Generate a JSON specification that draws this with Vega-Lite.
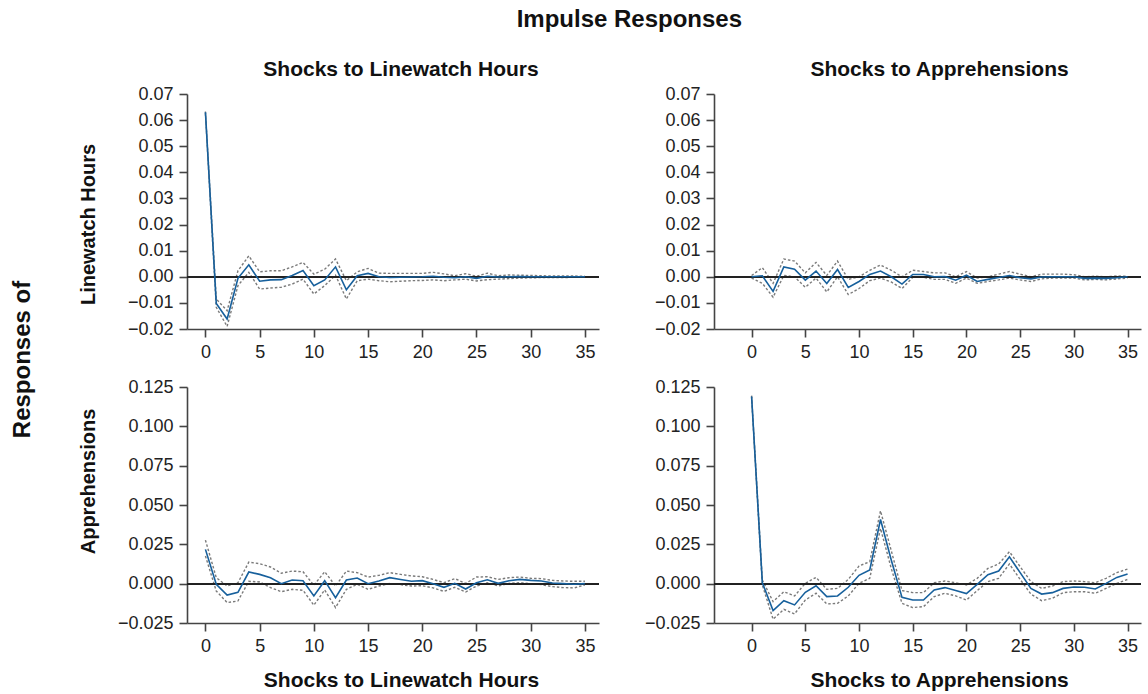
{
  "$schema": "https://vega.github.io/schema/vega-lite/v6.json",
  "padding": {"left": 10, "top": 8, "right": 6, "bottom": 4},
  "background": "white",
  "config": {
    "view": {"stroke": null},
    "font": "Liberation Sans",
    "axis": {
      "grid": false,
      "labelOverlap": false,
      "tickCount": 20,
      "domainColor": "#444444",
      "domainWidth": 1.6,
      "tickColor": "#444444",
      "tickWidth": 1.6,
      "tickSize": 8,
      "labelFont": "Liberation Sans",
      "labelFontSize": 18,
      "labelColor": "#222222",
      "labelPadding": 6,
      "titleFont": "Liberation Sans",
      "titleFontSize": 20,
      "titleFontWeight": "bold",
      "titleColor": "#111111"
    },
    "title": {"font": "Liberation Sans", "fontWeight": "bold", "color": "#111111"}
  },
  "datasets": {
    "lwlw": [
      {"step": 0, "lower": 0.0625, "response": 0.063, "upper": 0.0633},
      {"step": 1, "lower": -0.0117, "response": -0.0102, "upper": -0.0085},
      {"step": 2, "lower": -0.019, "response": -0.0162, "upper": -0.013},
      {"step": 3, "lower": -0.0034, "response": -0.0006, "upper": 0.0023},
      {"step": 4, "lower": 0.0017, "response": 0.0046, "upper": 0.008},
      {"step": 5, "lower": -0.0047, "response": -0.0017, "upper": 0.0019},
      {"step": 6, "lower": -0.0043, "response": -0.0012, "upper": 0.0023},
      {"step": 7, "lower": -0.004, "response": -0.0011, "upper": 0.0023},
      {"step": 8, "lower": -0.0028, "response": 0.0005, "upper": 0.0038},
      {"step": 9, "lower": -0.0009, "response": 0.0024, "upper": 0.0055},
      {"step": 10, "lower": -0.0066, "response": -0.0034, "upper": 0.001},
      {"step": 11, "lower": -0.0034, "response": -0.0012, "upper": 0.0029},
      {"step": 12, "lower": 0.0006, "response": 0.0038, "upper": 0.0068},
      {"step": 13, "lower": -0.0085, "response": -0.005, "upper": -0.0015},
      {"step": 14, "lower": -0.0015, "response": 0.0004, "upper": 0.0019},
      {"step": 15, "lower": -0.0009, "response": 0.0013, "upper": 0.0032},
      {"step": 16, "lower": -0.0015, "response": 0.0, "upper": 0.0014},
      {"step": 17, "lower": -0.0019, "response": -0.0003, "upper": 0.0013},
      {"step": 18, "lower": -0.0017, "response": -0.0002, "upper": 0.0013},
      {"step": 19, "lower": -0.0015, "response": -0.0001, "upper": 0.0013},
      {"step": 20, "lower": -0.0014, "response": 0.0, "upper": 0.0013},
      {"step": 21, "lower": -0.0012, "response": 0.0002, "upper": 0.0017},
      {"step": 22, "lower": -0.0015, "response": -0.0002, "upper": 0.0011},
      {"step": 23, "lower": -0.0012, "response": -0.0004, "upper": 0.0004},
      {"step": 24, "lower": -0.0009, "response": 0.0, "upper": 0.0012},
      {"step": 25, "lower": -0.0016, "response": -0.0006, "upper": 0.0002},
      {"step": 26, "lower": -0.0011, "response": 0.0002, "upper": 0.0014},
      {"step": 27, "lower": -0.0009, "response": -0.0001, "upper": 0.0004},
      {"step": 28, "lower": -0.0007, "response": 0.0, "upper": 0.0007},
      {"step": 29, "lower": -0.0005, "response": 0.0001, "upper": 0.0006},
      {"step": 30, "lower": -0.0004, "response": 0.0, "upper": 0.0005},
      {"step": 31, "lower": -0.0003, "response": 0.0, "upper": 0.0004},
      {"step": 32, "lower": -0.0003, "response": 0.0, "upper": 0.0003},
      {"step": 33, "lower": -0.0003, "response": 0.0, "upper": 0.0003},
      {"step": 34, "lower": -0.0002, "response": 0.0, "upper": 0.0003},
      {"step": 35, "lower": -0.0002, "response": 0.0, "upper": 0.0002}
    ],
    "lwap": [
      {"step": 0, "lower": -0.0005, "response": 0.0, "upper": 0.0005},
      {"step": 1, "lower": -0.0025, "response": 0.0004, "upper": 0.0035},
      {"step": 2, "lower": -0.0078, "response": -0.0056, "upper": -0.0025},
      {"step": 3, "lower": 0.0005, "response": 0.0038, "upper": 0.0068},
      {"step": 4, "lower": 0.0, "response": 0.0029, "upper": 0.006},
      {"step": 5, "lower": -0.004, "response": -0.0013, "upper": 0.0015},
      {"step": 6, "lower": -0.0005, "response": 0.0022, "upper": 0.0055},
      {"step": 7, "lower": -0.0058, "response": -0.0026, "upper": 0.0005},
      {"step": 8, "lower": 0.0, "response": 0.0028, "upper": 0.006},
      {"step": 9, "lower": -0.0068, "response": -0.0041, "upper": -0.001},
      {"step": 10, "lower": -0.0045, "response": -0.0018, "upper": 0.0},
      {"step": 11, "lower": -0.0015, "response": 0.0009, "upper": 0.0025},
      {"step": 12, "lower": -0.0005, "response": 0.0022, "upper": 0.0045},
      {"step": 13, "lower": -0.002, "response": 0.0, "upper": 0.0025},
      {"step": 14, "lower": -0.0045, "response": -0.0028, "upper": 0.0},
      {"step": 15, "lower": -0.0002, "response": 0.0009, "upper": 0.0025},
      {"step": 16, "lower": -0.0002, "response": 0.0009, "upper": 0.002},
      {"step": 17, "lower": -0.001, "response": 0.0, "upper": 0.0015},
      {"step": 18, "lower": -0.001, "response": 0.0001, "upper": 0.0015},
      {"step": 19, "lower": -0.0025, "response": -0.0013, "upper": 0.0},
      {"step": 20, "lower": -0.0005, "response": 0.0006, "upper": 0.002},
      {"step": 21, "lower": -0.0025, "response": -0.0018, "upper": -0.0005},
      {"step": 22, "lower": -0.0018, "response": -0.001, "upper": 0.0},
      {"step": 23, "lower": -0.0012, "response": -0.0003, "upper": 0.001},
      {"step": 24, "lower": -0.0005, "response": 0.0005, "upper": 0.002},
      {"step": 25, "lower": -0.0012, "response": -0.0004, "upper": 0.001},
      {"step": 26, "lower": -0.0018, "response": -0.0008, "upper": 0.0},
      {"step": 27, "lower": -0.0008, "response": -0.0001, "upper": 0.001},
      {"step": 28, "lower": -0.0005, "response": 0.0, "upper": 0.001},
      {"step": 29, "lower": -0.0005, "response": 0.0, "upper": 0.001},
      {"step": 30, "lower": -0.0005, "response": 0.0, "upper": 0.0008},
      {"step": 31, "lower": -0.0012, "response": -0.0006, "upper": 0.0},
      {"step": 32, "lower": -0.001, "response": -0.0005, "upper": 0.0002},
      {"step": 33, "lower": -0.0012, "response": -0.0006, "upper": 0.0},
      {"step": 34, "lower": -0.0008, "response": -0.0004, "upper": 0.0003},
      {"step": 35, "lower": -0.0005, "response": 0.0, "upper": 0.0002}
    ],
    "aplw": [
      {"step": 0, "lower": 0.0176, "response": 0.0218, "upper": 0.0277},
      {"step": 1, "lower": -0.0047, "response": -0.0004, "upper": 0.0038},
      {"step": 2, "lower": -0.012, "response": -0.0072, "upper": -0.0015},
      {"step": 3, "lower": -0.011, "response": -0.0055, "upper": 0.0006},
      {"step": 4, "lower": 0.0015, "response": 0.0074, "upper": 0.0137},
      {"step": 5, "lower": 0.0011, "response": 0.0059, "upper": 0.0127},
      {"step": 6, "lower": -0.0025, "response": 0.0038, "upper": 0.0106},
      {"step": 7, "lower": -0.0051, "response": 0.0, "upper": 0.0066},
      {"step": 8, "lower": -0.0036, "response": 0.0023, "upper": 0.008},
      {"step": 9, "lower": -0.0042, "response": 0.0019, "upper": 0.0076},
      {"step": 10, "lower": -0.0137, "response": -0.0078, "upper": -0.001},
      {"step": 11, "lower": -0.004, "response": 0.0019, "upper": 0.0076},
      {"step": 12, "lower": -0.0152, "response": -0.0089, "upper": -0.0015},
      {"step": 13, "lower": -0.0036, "response": 0.0023, "upper": 0.008},
      {"step": 14, "lower": -0.0004, "response": 0.0036, "upper": 0.007},
      {"step": 15, "lower": -0.0036, "response": 0.0, "upper": 0.0042},
      {"step": 16, "lower": -0.0015, "response": 0.0017, "upper": 0.0053},
      {"step": 17, "lower": 0.0002, "response": 0.0038, "upper": 0.007},
      {"step": 18, "lower": -0.0006, "response": 0.0027, "upper": 0.0059},
      {"step": 19, "lower": -0.0015, "response": 0.0015, "upper": 0.0049},
      {"step": 20, "lower": -0.0013, "response": 0.0019, "upper": 0.0044},
      {"step": 21, "lower": -0.0027, "response": 0.0, "upper": 0.0027},
      {"step": 22, "lower": -0.0049, "response": -0.0023, "upper": 0.0006},
      {"step": 23, "lower": -0.0023, "response": 0.0002, "upper": 0.0032},
      {"step": 24, "lower": -0.0053, "response": -0.0034, "upper": 0.0002},
      {"step": 25, "lower": -0.0015, "response": 0.0006, "upper": 0.0042},
      {"step": 26, "lower": 0.0006, "response": 0.0025, "upper": 0.0044},
      {"step": 27, "lower": -0.0015, "response": 0.0002, "upper": 0.0027},
      {"step": 28, "lower": 0.0002, "response": 0.0019, "upper": 0.0038},
      {"step": 29, "lower": 0.0006, "response": 0.0027, "upper": 0.0042},
      {"step": 30, "lower": 0.0, "response": 0.0021, "upper": 0.0034},
      {"step": 31, "lower": -0.0006, "response": 0.0017, "upper": 0.0032},
      {"step": 32, "lower": -0.0019, "response": 0.0004, "upper": 0.0021},
      {"step": 33, "lower": -0.0025, "response": 0.0, "upper": 0.0017},
      {"step": 34, "lower": -0.0027, "response": -0.0004, "upper": 0.0015},
      {"step": 35, "lower": -0.0008, "response": 0.0, "upper": 0.0015}
    ],
    "apap": [
      {"step": 0, "lower": 0.1185, "response": 0.119, "upper": 0.1195},
      {"step": 1, "lower": -0.0008, "response": 0.0006, "upper": 0.0023},
      {"step": 2, "lower": -0.0226, "response": -0.0171, "upper": -0.0114},
      {"step": 3, "lower": -0.0163, "response": -0.0108, "upper": -0.0051},
      {"step": 4, "lower": -0.0192, "response": -0.0135, "upper": -0.0078},
      {"step": 5, "lower": -0.0104, "response": -0.0055, "upper": 0.0002},
      {"step": 6, "lower": -0.0061, "response": -0.0013, "upper": 0.004},
      {"step": 7, "lower": -0.0129, "response": -0.0082, "upper": -0.0036},
      {"step": 8, "lower": -0.0125, "response": -0.0078, "upper": -0.003},
      {"step": 9, "lower": -0.0078, "response": -0.0023, "upper": 0.0027},
      {"step": 10, "lower": 0.0002, "response": 0.0053, "upper": 0.0112},
      {"step": 11, "lower": 0.0034, "response": 0.0087, "upper": 0.014},
      {"step": 12, "lower": 0.0351, "response": 0.0408, "upper": 0.0463},
      {"step": 13, "lower": 0.0097, "response": 0.015, "upper": 0.021},
      {"step": 14, "lower": -0.0125, "response": -0.0087, "upper": -0.0044},
      {"step": 15, "lower": -0.0152, "response": -0.0104, "upper": -0.0057},
      {"step": 16, "lower": -0.0146, "response": -0.0104, "upper": -0.0057},
      {"step": 17, "lower": -0.0082, "response": -0.004, "upper": 0.0006},
      {"step": 18, "lower": -0.0061, "response": -0.0025, "upper": 0.0017},
      {"step": 19, "lower": -0.0078, "response": -0.0044, "upper": 0.0006},
      {"step": 20, "lower": -0.0104, "response": -0.0063, "upper": -0.0008},
      {"step": 21, "lower": -0.0044, "response": -0.0004, "upper": 0.0034},
      {"step": 22, "lower": 0.0013, "response": 0.0057, "upper": 0.0097},
      {"step": 23, "lower": 0.0034, "response": 0.008, "upper": 0.0125},
      {"step": 24, "lower": 0.0125, "response": 0.0171, "upper": 0.0203},
      {"step": 25, "lower": 0.0027, "response": 0.007, "upper": 0.0108},
      {"step": 26, "lower": -0.0066, "response": -0.003, "upper": 0.0013},
      {"step": 27, "lower": -0.0108, "response": -0.0066, "upper": -0.003},
      {"step": 28, "lower": -0.0093, "response": -0.0057, "upper": -0.0015},
      {"step": 29, "lower": -0.0057, "response": -0.003, "upper": 0.0013},
      {"step": 30, "lower": -0.0051, "response": -0.0021, "upper": 0.0017},
      {"step": 31, "lower": -0.0051, "response": -0.0023, "upper": 0.0013},
      {"step": 32, "lower": -0.0061, "response": -0.0034, "upper": 0.0006},
      {"step": 33, "lower": -0.003, "response": 0.0002, "upper": 0.0034},
      {"step": 34, "lower": 0.0002, "response": 0.004, "upper": 0.007},
      {"step": 35, "lower": 0.0027, "response": 0.0061, "upper": 0.0093}
    ]
  },
  "title": {"text": "Impulse Responses", "fontSize": 24, "anchor": "middle", "offset": 27, "dx": 53},
  "vconcat": [
    {
      "title": {"text": "Responses of", "orient": "left", "fontSize": 24, "anchor": "middle", "offset": 43, "dx": 15},
      "spacing": 17,
      "vconcat": [
        {
          "bounds": "flush",
          "spacing": 115,
          "hconcat": [
            {
              "width": 412, "height": 235,
              "data": {"name": "lwlw"},
              "title": {"text": "Shocks to Linewatch Hours", "fontSize": 21, "frame": "group", "offset": 5, "dx": 8},
              "encoding": {
                "x": {"field": "step", "type": "quantitative", "scale": {"domain": [-1.7, 36.3], "nice": false, "zero": false},
                      "axis": {"values": [0, 5, 10, 15, 20, 25, 30, 35], "title": null}}
              },
              "layer": [
                {"mark": {"type": "line", "color": "#7a7a7a", "strokeWidth": 1.4, "strokeDash": [2.5, 2]},
                 "encoding": {"y": {"field": "lower", "type": "quantitative", "scale": {"domain": [-0.02, 0.07], "nice": false, "zero": false},
                                    "axis": {"values": [-0.02, -0.01, 0, 0.01, 0.02, 0.03, 0.04, 0.05, 0.06, 0.07], "format": ".2f", "title": "Linewatch Hours", "titleX": -89, "titleY": 130}}}},
                {"mark": {"type": "line", "color": "#7a7a7a", "strokeWidth": 1.4, "strokeDash": [2.5, 2]},
                 "encoding": {"y": {"field": "upper", "type": "quantitative"}}},
                {"mark": {"type": "rule", "color": "#222222", "strokeWidth": 1.4},
                 "encoding": {"y": {"datum": 0, "type": "quantitative"}, "x": {"datum": -1.7}, "x2": {"datum": 36.3}}},
                {"mark": {"type": "line", "color": "#17609c", "strokeWidth": 1.6},
                 "encoding": {"y": {"field": "response", "type": "quantitative"}}}
              ]
            },
            {
              "width": 427, "height": 235,
              "data": {"name": "lwap"},
              "title": {"text": "Shocks to Apprehensions", "fontSize": 21, "frame": "group", "offset": 5, "dx": 12},
              "encoding": {
                "x": {"field": "step", "type": "quantitative", "scale": {"domain": [-3.5, 36.25], "nice": false, "zero": false},
                      "axis": {"values": [0, 5, 10, 15, 20, 25, 30, 35], "title": null}}
              },
              "layer": [
                {"mark": {"type": "line", "color": "#7a7a7a", "strokeWidth": 1.4, "strokeDash": [2.5, 2]},
                 "encoding": {"y": {"field": "lower", "type": "quantitative", "scale": {"domain": [-0.02, 0.07], "nice": false, "zero": false},
                                    "axis": {"values": [-0.02, -0.01, 0, 0.01, 0.02, 0.03, 0.04, 0.05, 0.06, 0.07], "format": ".2f", "title": null}}}},
                {"mark": {"type": "line", "color": "#7a7a7a", "strokeWidth": 1.4, "strokeDash": [2.5, 2]},
                 "encoding": {"y": {"field": "upper", "type": "quantitative"}}},
                {"mark": {"type": "rule", "color": "#222222", "strokeWidth": 1.4},
                 "encoding": {"y": {"datum": 0, "type": "quantitative"}, "x": {"datum": -3.5}, "x2": {"datum": 36.25}}},
                {"mark": {"type": "line", "color": "#17609c", "strokeWidth": 1.6},
                 "encoding": {"y": {"field": "response", "type": "quantitative"}}}
              ]
            }
          ]
        },
        {
          "bounds": "flush",
          "spacing": 115,
          "hconcat": [
            {
              "width": 412, "height": 236,
              "data": {"name": "aplw"},
              "encoding": {
                "x": {"field": "step", "type": "quantitative", "scale": {"domain": [-1.7, 36.3], "nice": false, "zero": false},
                      "axis": {"values": [0, 5, 10, 15, 20, 25, 30, 35], "title": "Shocks to Linewatch Hours", "titleFontSize": 21, "titleX": 214, "titleY": 46, "titleBaseline": "top"}}
              },
              "layer": [
                {"mark": {"type": "line", "color": "#7a7a7a", "strokeWidth": 1.4, "strokeDash": [2.5, 2]},
                 "encoding": {"y": {"field": "lower", "type": "quantitative", "scale": {"domain": [-0.025, 0.125], "nice": false, "zero": false},
                                    "axis": {"values": [-0.025, 0, 0.025, 0.05, 0.075, 0.1, 0.125], "format": ".3f", "title": "Apprehensions", "titleX": -89, "titleY": 94}}}},
                {"mark": {"type": "line", "color": "#7a7a7a", "strokeWidth": 1.4, "strokeDash": [2.5, 2]},
                 "encoding": {"y": {"field": "upper", "type": "quantitative"}}},
                {"mark": {"type": "rule", "color": "#222222", "strokeWidth": 1.4},
                 "encoding": {"y": {"datum": 0, "type": "quantitative"}, "x": {"datum": -1.7}, "x2": {"datum": 36.3}}},
                {"mark": {"type": "line", "color": "#17609c", "strokeWidth": 1.6},
                 "encoding": {"y": {"field": "response", "type": "quantitative"}}}
              ]
            },
            {
              "width": 427, "height": 236,
              "data": {"name": "apap"},
              "encoding": {
                "x": {"field": "step", "type": "quantitative", "scale": {"domain": [-3.5, 36.25], "nice": false, "zero": false},
                      "axis": {"values": [0, 5, 10, 15, 20, 25, 30, 35], "title": "Shocks to Apprehensions", "titleFontSize": 21, "titleX": 225, "titleY": 46, "titleBaseline": "top"}}
              },
              "layer": [
                {"mark": {"type": "line", "color": "#7a7a7a", "strokeWidth": 1.4, "strokeDash": [2.5, 2]},
                 "encoding": {"y": {"field": "lower", "type": "quantitative", "scale": {"domain": [-0.025, 0.125], "nice": false, "zero": false},
                                    "axis": {"values": [-0.025, 0, 0.025, 0.05, 0.075, 0.1, 0.125], "format": ".3f", "title": null}}}},
                {"mark": {"type": "line", "color": "#7a7a7a", "strokeWidth": 1.4, "strokeDash": [2.5, 2]},
                 "encoding": {"y": {"field": "upper", "type": "quantitative"}}},
                {"mark": {"type": "rule", "color": "#222222", "strokeWidth": 1.4},
                 "encoding": {"y": {"datum": 0, "type": "quantitative"}, "x": {"datum": -3.5}, "x2": {"datum": 36.25}}},
                {"mark": {"type": "line", "color": "#17609c", "strokeWidth": 1.6},
                 "encoding": {"y": {"field": "response", "type": "quantitative"}}}
              ]
            }
          ]
        }
      ]
    }
  ]
}
